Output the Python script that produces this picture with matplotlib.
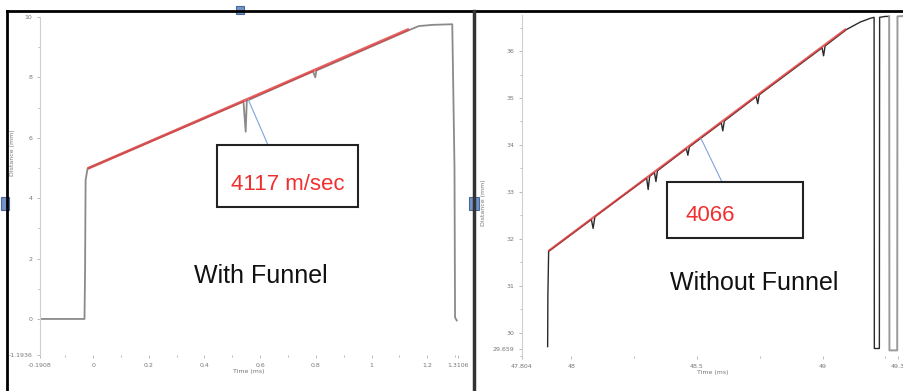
import matplotlib
matplotlib.use("Agg")
import matplotlib.pyplot as plt
from matplotlib.lines import Line2D
from matplotlib.patches import Rectangle

# ---- data ----
# left panel: with funnel (time ms, distance mm)
left_t = [-0.1908, -0.031, -0.029, -0.027, -0.020, 0.20, 0.54, 0.548, 0.552, 0.56,
          0.79, 0.798, 0.802, 0.81, 1.136, 1.17, 1.22, 1.29, 1.298, 1.300, 1.306]
left_d = [0.0, 0.0, 1.5, 4.6, 4.98, 5.85, 7.20, 6.20, 7.23, 7.26,
          8.20, 8.00, 8.23, 8.26, 9.57, 9.70, 9.74, 9.76, 5.0, 0.05, -0.05]
left_fit_t = [-0.015, 1.13]
left_fit_d = [5.00, 9.58]

# right panel: without funnel
right_t = [47.906, 47.907, 47.910, 48.08, 48.087, 48.094, 48.30, 48.306, 48.312,
           48.331, 48.337, 48.343, 48.458, 48.464, 48.470, 48.597, 48.603, 48.609,
           48.736, 48.742, 48.748, 48.998, 49.004, 49.010, 49.095, 49.15, 49.19,
           49.205, 49.206, 49.226, 49.227, 49.25, 49.265]
right_d = [29.70, 30.80, 31.73, 32.41, 32.22, 32.47, 33.29, 33.05, 33.33,
           33.41, 33.22, 33.45, 33.92, 33.78, 33.96, 34.47, 34.30, 34.51,
           35.03, 34.88, 35.07, 36.07, 35.90, 36.11, 36.46, 36.62, 36.70,
           36.72, 29.66, 29.66, 36.72, 36.74, 36.74]
right_dip_t = [49.265, 49.266, 49.297, 49.298, 49.33]
right_dip_d = [36.74, 29.62, 29.62, 36.74, 36.75]
right_fit_t = [47.912, 49.09]
right_fit_d = [31.75, 36.46]

left_xticks = [-0.1908, 0, 0.2, 0.4, 0.6, 0.8, 1, 1.2, 1.3106]
left_xlabels = ["-0.1908", "0", "0.2", "0.4", "0.6", "0.8", "1", "1.2", "1.3106"]
left_yticks = [-1.1936, 0, 2, 4, 6, 8, 10]
left_ylabels = ["-1.1936", "0", "2", "4", "6", "8", "10"]
right_xticks = [47.804, 48, 48.5, 49, 49.3]
right_xlabels = ["47.804", "48", "48.5", "49", "49.3"]
right_yticks = [29.659, 30, 31, 32, 33, 34, 35, 36]
right_ylabels = ["29.659", "30", "31", "32", "33", "34", "35", "36"]

W, H = 904, 391


def fx(x):
    return x / W


def fy(y):
    return 1 - y / H


def style_axes(ax, xticks, xlabels, yticks, ylabels, xminor, yminor):
    for s in ["top", "right", "bottom"]:
        ax.spines[s].set_visible(False)
    ax.spines["left"].set_color("#cfcfcf")
    ax.spines["left"].set_linewidth(0.8)
    ax.set_xticks(xticks)
    ax.set_xticklabels(xlabels)
    ax.set_yticks(yticks)
    ax.set_yticklabels(ylabels)
    ax.set_xticks(xminor, minor=True)
    ax.set_yticks(yminor, minor=True)
    ax.tick_params(which="both", colors="#b0b0b0", labelcolor="#777777",
                   labelsize=4.5, width=0.6)
    ax.tick_params(which="major", length=2.5, pad=3)
    ax.tick_params(which="minor", length=1.5)
    ax.set_xlabel("Time (ms)", fontsize=4.5, color="#777777", labelpad=1)
    ax.set_ylabel("Distance (mm)", fontsize=4.5, color="#777777")


fig = plt.figure(figsize=(W / 100, H / 100), dpi=100)

# left chart
ax1 = fig.add_axes([fx(40), fy(355), fx(418), 338 / H])
ax1.plot(left_t, left_d, color="#8a8a8a", lw=1.3)
ax1.plot(left_fit_t, left_fit_d, color="#e23c3c", lw=2.0, alpha=0.8)
ax1.set_xlim(-0.1908, 1.3106)
ax1.set_ylim(-1.1936, 10.0)
style_axes(ax1, left_xticks, left_xlabels, left_yticks, left_ylabels,
           [-0.1, 0.1, 0.3, 0.5, 0.7, 0.9, 1.1, 1.3], [1, 3, 5, 7, 9])
ax1.yaxis.set_label_coords(-0.06, 0.6)

# right chart
ax2 = fig.add_axes([fx(522), fy(356), fx(382), 341 / H])
ax2.plot(right_t, right_d, color="#2a2a2a", lw=1.0)
ax2.plot(right_dip_t, right_dip_d, color="#9a9a9a", lw=1.4)
ax2.plot(right_fit_t, right_fit_d, color="#e23c3c", lw=1.6, alpha=0.8)
ax2.set_xlim(47.804, 49.324)
ax2.set_ylim(29.659, 36.77)
style_axes(ax2, right_xticks, right_xlabels, right_yticks, right_ylabels,
           [48.25, 48.75, 49.25],
           [29.5, 30.5, 31.5, 32.5, 33.5, 34.5, 35.5, 36.5])
ax2.yaxis.set_label_coords(-0.095, 0.45)

# connector lines from the fits to the boxes
ax1.annotate("", xy=(0.557, 7.27), xycoords="data",
             xytext=(fx(268), fy(145)), textcoords="figure fraction",
             arrowprops=dict(arrowstyle="-", color="#7fa3dc", lw=0.8,
                             shrinkA=0, shrinkB=0))
ax2.annotate("", xy=(48.516, 34.14), xycoords="data",
             xytext=(fx(722), fy(182)), textcoords="figure fraction",
             arrowprops=dict(arrowstyle="-", color="#7fa3dc", lw=0.8,
                             shrinkA=0, shrinkB=0))

# callout boxes
for x0, y0, x1, y1 in [(217, 145, 358, 207), (667, 182, 803, 238)]:
    fig.add_artist(Rectangle((fx(x0), fy(y1)), fx(x1 - x0), (y1 - y0) / H,
                             transform=fig.transFigure, fill=True,
                             facecolor="white", edgecolor="#222222", lw=1.5))

font = ["Liberation Sans", "DejaVu Sans"]
fig.text(fx(288), fy(184), "4117 m/sec", color="#f03030", fontsize=16,
         family=font, ha="center", va="center")
fig.text(fx(686), fy(216), "4066", color="#f03030", fontsize=16,
         family=font, ha="left", va="center")
fig.text(fx(261), fy(276), "With Funnel", color="#111111", fontsize=18,
         family=font, ha="center", va="center")
fig.text(fx(754), fy(283), "Without Funnel", color="#111111", fontsize=18,
         family=font, ha="center", va="center")

# screenshot frame and divider
fig.add_artist(Line2D([fx(7), 1], [fy(11), fy(11)], color="black", lw=2,
                      transform=fig.transFigure))
fig.add_artist(Line2D([fx(7), fx(7)], [fy(11), 0], color="black", lw=2,
                      transform=fig.transFigure))
fig.add_artist(Line2D([fx(474), fx(474)], [fy(11), 0], color="#333333", lw=2.5,
                      transform=fig.transFigure))

# little blue handles of the screenshot
for x0, y0, w, h in [(1, 197, 8, 13), (469, 197, 10, 13), (236, 6, 8, 8)]:
    fig.add_artist(Rectangle((fx(x0), fy(y0 + h)), fx(w), h / H,
                             transform=fig.transFigure, facecolor="#7393c9",
                             edgecolor="#4a679c", lw=0.8))

fig.savefig("out.png", dpi=100)
